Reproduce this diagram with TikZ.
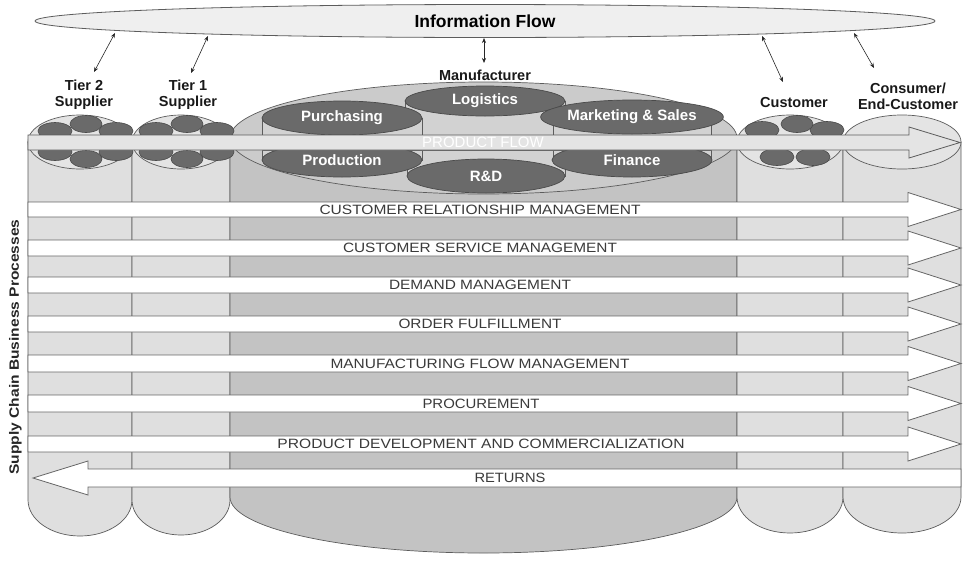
\documentclass[tikz,border=0pt]{standalone}
\usepackage{fontspec}
\setmainfont{Liberation Sans}
\usetikzlibrary{arrows.meta,shapes.geometric}
\definecolor{colL}{HTML}{DFDFDF}
\definecolor{colM}{HTML}{C3C3C3}
\definecolor{topL}{HTML}{E4E4E4}
\definecolor{topM}{HTML}{CBCBCB}
\definecolor{innerc}{HTML}{D2D2D2}
\definecolor{darkc}{HTML}{6A6A6A}
\definecolor{edgec}{HTML}{5C5C5C}
\definecolor{dotedge}{HTML}{4A4A4A}
\definecolor{bandedge}{HTML}{666666}
\definecolor{bandtxt}{HTML}{3A3A3A}
\definecolor{flowc}{HTML}{E4E4E4}
\definecolor{infofill}{HTML}{EFEFEF}
\newcommand{\fitw}[2]{\resizebox{#1pt}{\height}{#2}}
\begin{document}
\begin{tikzpicture}[x=1pt,y=-1pt,
  every node/.style={inner sep=0pt},
  edgeline/.style={draw=edgec,line width=0.7pt},
  bodyL/.style={edgeline,fill=colL},
  bodyM/.style={edgeline,fill=colM},
  topLs/.style={edgeline,fill=topL},
  topMs/.style={edgeline,fill=topM},
  dotell/.style={draw=dotedge,fill=darkc,line width=0.6pt},
  innercyl/.style={edgeline,fill=innerc},
  innerell/.style={ellipse,draw=dotedge,fill=darkc,line width=0.7pt,minimum width=160pt,minimum height=34pt,text=white,font=\bfseries\fontsize{15}{17}\selectfont},
  band/.style={draw=bandedge,fill=white,line width=0.8pt},
  flowbar/.style={draw=edgec,fill=flowc,line width=0.8pt},
  bandlabel/.style={text=bandtxt,font=\fontsize{13.5}{15}\selectfont},
  actor/.style={font=\bfseries\fontsize{14.5}{16}\selectfont,align=center,text=black!90},
  infoarrow/.style={{Stealth[length=5pt,width=4pt]}-{Stealth[length=5pt,width=4pt]},line width=0.6pt,draw=black!85},
]
\useasboundingbox (0,0) rectangle (966,560);
\fill[white] (0,0) rectangle (966,560);

% column bodies
\path[bodyL] (28,142) -- (28,500) arc[start angle=180,end angle=0,x radius=52,y radius=36] -- (132,142) -- cycle;
\path[bodyL] (132,142) -- (132,500) arc[start angle=180,end angle=0,x radius=49,y radius=35] -- (230,142) -- cycle;
\path[bodyM] (230,138) -- (230,497) arc[start angle=180,end angle=0,x radius=253.5,y radius=56] -- (737,138) -- cycle;
\path[bodyL] (737,142) -- (737,497) arc[start angle=180,end angle=0,x radius=53,y radius=36] -- (843,142) -- cycle;
\path[bodyL] (843,142) -- (843,497) arc[start angle=180,end angle=0,x radius=59,y radius=36] -- (961,142) -- cycle;

% column tops
\path[topLs] (80,142) ellipse[x radius=52,y radius=27];
\path[topLs] (181,142) ellipse[x radius=49,y radius=27];
\path[topMs] (483.5,138) ellipse[x radius=253.5,y radius=56];
\path[topLs] (790,142) ellipse[x radius=53,y radius=27];
\path[topLs] (902,142) ellipse[x radius=59,y radius=27];

% small ellipses on supplier tops
\foreach \dx in {0,101}{
  \path[dotell] (55+\dx,131) ellipse[x radius=17,y radius=8.5];
  \path[dotell] (116+\dx,131) ellipse[x radius=17,y radius=8.5];
  \path[dotell] (86+\dx,124) ellipse[x radius=16,y radius=8.5];
  \path[dotell] (55+\dx,152) ellipse[x radius=17,y radius=8.5];
  \path[dotell] (116+\dx,152) ellipse[x radius=17,y radius=8.5];
  \path[dotell] (86+\dx,159) ellipse[x radius=16,y radius=8.5];
}
% customer top
\path[dotell] (762,130) ellipse[x radius=17,y radius=8.5];
\path[dotell] (827,130) ellipse[x radius=17,y radius=8.5];
\path[dotell] (797,124) ellipse[x radius=16,y radius=8.5];
\path[dotell] (777,157) ellipse[x radius=17,y radius=8.5];
\path[dotell] (813,157) ellipse[x radius=17,y radius=8.5];

% manufacturer inner cylinders, upper row
\path[innercyl] (405,101) rectangle (565,135);
\node[innerell,minimum height=30pt] (logi) at (485,101) {Logistics};
\path[innercyl] (262,118) rectangle (422,135);
\path[innercyl] (553,117) rectangle (711,135);
\node[innerell] (purch) at (342,118) {Purchasing};
\node[innerell,minimum width=158pt] (mkt) at (632,117) {Marketing \& Sales};
% lower row
\path[innercyl] (407,150) rectangle (565,176);
\path[innercyl] (262,150) rectangle (422,160);
\path[innercyl] (553,150) rectangle (711,160);
\node[innerell] (prod) at (342,160) {Production};
\node[innerell] (fin) at (632,160) {Finance};
\node[innerell,minimum width=158pt] (rd) at (486,176) {R\&D};

% product flow
\path[flowbar] (28,135) -- (909,135) -- (909,127) -- (960,142.5) -- (909,158) -- (909,150) -- (28,150) -- cycle;
\node[text=white,font=\fontsize{15}{17}\selectfont] (pflow) at (483,142.5) {PRODUCT FLOW};

% process bands
\foreach \t/\b/\w/\cx/\lab [count=\i] in {
  202/217/321/480/{CUSTOMER RELATIONSHIP MANAGEMENT},
  240/256/274/480/{CUSTOMER SERVICE MANAGEMENT},
  277/293/182/480/{DEMAND MANAGEMENT},
  316/332/163/480/{ORDER FULFILLMENT},
  355/372/299/480/{MANUFACTURING FLOW MANAGEMENT},
  395/412/117/481/{PROCUREMENT},
  436/452/407/481/{PRODUCT DEVELOPMENT AND COMMERCIALIZATION}}
{
  \pgfmathsetmacro\c{(\t+\b)/2}
  \path[band] (28,\t) -- (908,\t) -- (908,\c-17) -- (961,\c) -- (908,\c+17) -- (908,\b) -- (28,\b) -- cycle;
  \node[bandlabel] (proc\i) at (\cx,\c) {\fitw{\w}{\lab}};
}
\path[band] (961,469) -- (88,469) -- (88,461) -- (33,478) -- (88,495) -- (88,487) -- (961,487) -- cycle;
\node[bandlabel] (ret) at (510,478) {\fitw{71}{RETURNS}};

% vertical label
\node[rotate=90,font=\bfseries\fontsize{13.5}{15}\selectfont,text=black!85] (scbp) at (15.5,347) {\fitw{255}{Supply Chain Business Processes}};

% information flow
\node[ellipse,draw=edgec,fill=infofill,line width=0.8pt,minimum width=900pt,minimum height=33pt,font=\bfseries\fontsize{17.5}{20}\selectfont] (info) at (485,21) {Information Flow};

% actor labels
\node[actor] (tier2) at (84,95) {Tier 2\\Supplier};
\node[actor] (tier1) at (188,95) {Tier 1\\Supplier};
\node[actor] (manu) at (485,75) {Manufacturer};
\node[actor] (cust) at (794,103) {Customer};
\node[actor] (cons) at (908,96) {Consumer/\\End-Customer};

% info arrows
\coordinate (i1) at (115,33); \coordinate (e1) at (94,72);
\coordinate (i2) at (208,36); \coordinate (e2) at (191,73);
\coordinate (i3) at (484,38); \coordinate (e3) at (484,63);
\coordinate (i4) at (762,36); \coordinate (e4) at (783,82);
\coordinate (i5) at (854,33); \coordinate (e5) at (874,68);
\draw[infoarrow] (i1) -- (e1);
\draw[infoarrow] (i2) -- (e2);
\draw[infoarrow] (i3) -- (e3);
\draw[infoarrow] (i4) -- (e4);
\draw[infoarrow] (i5) -- (e5);
\end{tikzpicture}
\end{document}
